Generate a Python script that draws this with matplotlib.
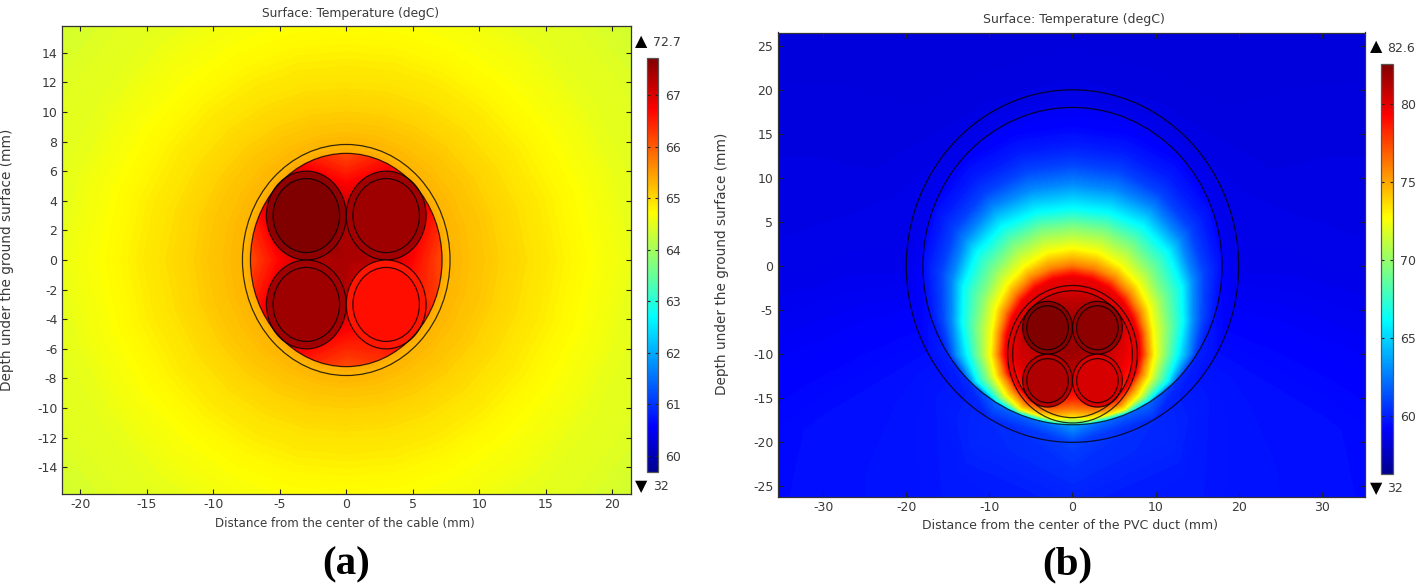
import matplotlib
matplotlib.use("Agg")
import matplotlib.pyplot as plt
import numpy as np
from matplotlib.cm import ScalarMappable
from matplotlib.colors import LinearSegmentedColormap, Normalize
from matplotlib.patches import Circle

W, H = 1416, 585
TEXT = "#3a3a3a"
LINE = (0, 0, 0, 0.78)

plt.rcParams["axes.unicode_minus"] = False

# the bars run dark blue - blue - cyan - yellow - red - dark red
RAINBOW = LinearSegmentedColormap.from_list("rainbow_bar", [
    (0.0, "#00008f"), (0.11, "#0000ff"), (0.375, "#00ffff"),
    (0.625, "#ffff00"), (0.875, "#ff0000"), (1.0, "#800000"),
], N=512)

# colour ranges of the two bars
range_a = (59.69, 67.73)
range_b = (56.3, 82.6)

# ── panel (a): isotherms, radius per ray (0..90 deg from "up", mirrored) ──
levels_a = [65.42, 65.3, 65.15, 64.97, 64.72, 64.55, 64.4, 64.3]
radii_a = [
    [7.0, 7.0, 7.0, 7.0, 7.0, 7.0, 7.0],
    [7.8, 7.8, 7.8, 7.8, 7.8, 7.8, 7.8],
    [9.3, 9.4, 9.6, 9.9, 10.2, 10.4, 10.5],
    [11.5, 11.7, 12.0, 12.4, 12.8, 13.2, 13.5],
    [15.5, 15.7, 16.0, 16.4, 17.0, 17.6, 18.0],
    [20.0, 20.0, 20.0, 20.3, 20.6, 21.0, 21.5],
    [25.0, 25.0, 25.0, 25.5, 26.0, 27.0, 28.0],
    [40.0, 40.0, 40.0, 40.0, 40.0, 40.0, 40.0],
]
# inside the cable: temperature per radius, 16 rays clockwise from "up"
core_r_a = [0.0, 2.5, 5.0, 7.3]
core_a = [
    [67.4] * 16,
    [67.4, 67.4, 67.45, 67.35, 67.3, 67.1, 67.0, 67.1, 67.3, 67.4, 67.45, 67.4, 67.35, 67.5, 67.6, 67.45],
    [66.75, 67.0, 67.3, 66.9, 66.7, 66.6, 66.7, 66.65, 66.65, 66.9, 67.3, 67.0, 66.7, 67.1, 67.5, 67.1],
    [66.1, 66.55, 67.2, 66.5, 66.1, 66.3, 66.9, 66.35, 66.1, 66.5, 67.2, 66.55, 66.1, 66.55, 67.4, 66.55],
]
# conductors: TL, TR, BL, BR
sheath_a = [67.6, 67.45, 67.45, 66.55]
metal_a = [67.73, 67.49, 67.49, 66.6]

# ── panel (b): rays 0..180 deg around the cable centre, air inside the duct ──
levels_b = [80.3, 79.7, 76.0, 72.7, 69.5, 66.2, 62.9, 61.0, 60.0, 59.2, 58.7]
radii_b = [
    [7.0, 7.0, 7.0, 7.0, 7.0, 7.0, 7.0, 6.8, 6.3, 5.8, 5.0, 4.5, 4.0],
    [8.8, 8.7, 8.6, 8.4, 8.2, 8.1, 8.0, 7.8, 7.4, 7.0, 6.3, 5.5, 5.0],
    [10.1, 10.0, 9.9, 9.6, 9.3, 9.0, 8.9, 8.6, 8.2, 8.0, 7.3, 6.5, 6.2],
    [12.0, 11.9, 11.5, 11.1, 10.6, 10.0, 9.85, 9.6, 9.2, 8.8, 8.0, 7.6, 7.1],
    [14.4, 14.4, 14.1, 13.3, 12.5, 11.8, 11.2, 10.6, 9.9, 9.1, 8.2, 7.85, 7.7],
    [16.5, 16.6, 16.7, 16.2, 15.1, 13.7, 12.6, 11.8, 10.5, 9.35, 8.5, 8.05, 7.95],
    [19.3, 19.3, 19.2, 18.3, 16.7, 15.0, 14.0, 12.5, 10.8, 9.6, 8.75, 8.3, 8.2],
    [21.5, 21.5, 21.0, 20.0, 18.2, 16.2, 14.7, 13.0, 11.4, 10.4, 10.1, 10.0, 10.0],
    [23.5, 23.5, 23.0, 21.8, 19.8, 17.3, 15.3, 16.0, 16.0, 16.0, 16.0, 16.0, 16.0],
    [26.0, 26.0, 25.5, 23.8, 21.2, 18.6, 22.0, 22.0, 22.0, 22.0, 22.0, 22.0, 22.0],
    [30.0] * 13,
]
core_r_b = [0.0, 2.5, 5.0, 6.2, 7.3]
core_b = [
    [81.8] * 16,
    [81.7, 81.9, 82.1, 81.6, 81.4, 81.0, 80.8, 80.9, 80.9, 81.0, 81.3, 81.6, 81.6, 82.0, 82.4, 82.0],
    [81.3, 81.6, 82.0, 81.0, 80.4, 80.1, 80.2, 79.3, 78.4, 79.4, 81.0, 80.5, 80.7, 81.4, 82.3, 81.7],
    [80.9, 81.2, 81.8, 80.5, 79.9, 79.6, 79.5, 77.5, 76.0, 77.7, 80.0, 80.0, 80.5, 81.0, 82.0, 81.3],
    [80.3, 80.6, 81.0, 79.8, 79.3, 78.5, 77.0, 75.0, 72.8, 75.2, 77.2, 78.6, 79.8, 80.2, 81.0, 80.6],
]
sheath_b = [82.4, 82.0, 81.2, 80.2]
metal_b = [82.6, 82.2, 81.4, 80.3]

# duct wall and soil around it: temperature per radius from the duct centre,
# rays every 30 deg from "up" to "down", mirrored
soil_r_b = [17.5, 18.0, 20.0, 23.0, 27.0, 35.0, 50.0]
soil_b = [
    [58.8, 58.8, 58.9, 59.2, 60.0, 62.0, 63.5],
    [58.8, 58.8, 58.9, 59.2, 60.0, 62.0, 63.5],
    [58.5, 58.5, 58.6, 58.7, 59.5, 60.3, 61.0],
    [58.4, 58.4, 58.5, 58.7, 59.5, 60.2, 60.5],
    [58.3, 58.3, 58.4, 58.7, 59.5, 59.9, 60.05],
    [58.2, 58.2, 58.4, 58.6, 59.5, 59.7, 59.8],
    [58.1, 58.1, 58.3, 58.6, 59.4, 59.6, 59.7],
]

xticks_a = [-20, -15, -10, -5, 0, 5, 10, 15, 20]
yticks_a = [-14, -12, -10, -8, -6, -4, -2, 0, 2, 4, 6, 8, 10, 12, 14]
xticks_b = [-30, -20, -10, 0, 10, 20, 30]
yticks_b = [-25, -20, -15, -10, -5, 0, 5, 10, 15, 20, 25]
barticks_a = [60, 61, 62, 63, 64, 65, 66, 67]
barticks_b = [60, 65, 70, 75, 80]

# conductor centres relative to the cable centre, radii of the drawn circles
cond_xy = [(-3, 3), (3, 3), (-3, -3), (3, -3)]
cable_radii = [7.2, 7.8]
cond_radii = [3.0, 2.5]
duct_radii = [18, 20]


def px_axes(fig, left, top, right, bottom):
    return fig.add_axes([left / W, 1 - bottom / H, (right - left) / W, (bottom - top) / H])


def put(fig, x, y, s, **kw):
    kw.setdefault("color", TEXT)
    kw.setdefault("ha", "center")
    kw.setdefault("va", "center")
    fig.text(x / W, 1 - y / H, s, **kw)


def mirror(table):
    """rows given on part of the rays -> reflected about the last ray"""
    return np.hstack([table, table[:, -2::-1]])


def clip_to(ax, cs, xy, rad):
    clip = Circle(xy, rad, fill=False, edgecolor="none", transform=ax.transData)
    ax.add_patch(clip)
    cs.set_clip_path(clip)


def draw_soil(ax, soil_r, soil, rng):
    temp = mirror(np.asarray(soil))
    th = np.radians(np.linspace(0, 360, temp.shape[1]))
    rr, tt = np.meshgrid(soil_r, th, indexing="ij")
    ax.contourf(rr * np.sin(tt), rr * np.cos(tt), temp, levels=np.linspace(rng[0], rng[1], 257),
                cmap=RAINBOW, norm=Normalize(*rng))


def draw_field(ax, cy, levels, radii, core_r, core, rng, sheath, metal, duct=None):
    norm = Normalize(*rng)
    steps = np.linspace(rng[0], rng[1], 257)

    r = np.asarray(radii, dtype=float)
    while r.shape[1] < 25:
        r = mirror(r)
    th = np.radians(np.linspace(0, 360, r.shape[1]))
    temp = np.repeat(np.asarray(levels)[:, None], r.shape[1], axis=1)
    cs = ax.contourf(r * np.sin(th), cy + r * np.cos(th), temp, levels=steps, cmap=RAINBOW, norm=norm)
    if duct is not None:
        clip_to(ax, cs, (0, 0), duct)

    # inside of the cable, cut at the inner sheath circle
    t_core = np.asarray(core)
    t_core = np.hstack([t_core, t_core[:, :1]])
    th_c = np.radians(np.linspace(0, 360, t_core.shape[1]))
    rr, tt = np.meshgrid(core_r, th_c, indexing="ij")
    cs = ax.contourf(rr * np.sin(tt), cy + rr * np.cos(tt), t_core, levels=steps, cmap=RAINBOW, norm=norm)
    clip_to(ax, cs, (0, cy), cable_radii[0])

    for (cx, dy), t_s, t_m in zip(cond_xy, sheath, metal):
        ax.add_patch(Circle((cx, cy + dy), cond_radii[0], fc=RAINBOW(norm(t_s)), ec=LINE, lw=0.9))
        ax.add_patch(Circle((cx, cy + dy), cond_radii[1], fc=RAINBOW(norm(t_m)), ec=LINE, lw=0.9))
    for rad in cable_radii:
        ax.add_patch(Circle((0, cy), rad, fill=False, ec=LINE, lw=0.9))


def style_axes(ax, xlim, ylim, xticks, yticks):
    ax.set_xlim(*xlim)
    ax.set_ylim(*ylim)
    ax.set_xticks(xticks)
    ax.set_yticks(yticks)
    ax.tick_params(direction="in", top=True, right=True, length=3.5, width=0.8, color="#222222",
                   labelsize=9, labelcolor=TEXT, pad=3)
    for s in ax.spines.values():
        s.set_linewidth(0.9)
        s.set_color("#333333")


def draw_bar(fig, box, rng, ticks):
    cax = px_axes(fig, *box)
    cb = fig.colorbar(ScalarMappable(Normalize(*rng), RAINBOW), cax=cax, ticks=ticks)
    cb.outline.set_edgecolor("#555555")
    cb.outline.set_linewidth(0.9)
    cax.tick_params(direction="in", left=True, right=True, length=2.5, width=0.8, color="#222222",
                    labelsize=9, labelcolor=TEXT, pad=5)


def main():
    fig = plt.figure(figsize=(W / 100, H / 100), dpi=100)
    plt.rcParams["font.family"] = "DejaVu Sans"

    # (a)
    ax = px_axes(fig, 61.5, 26, 631, 494)
    draw_field(ax, 0, levels_a, radii_a, core_r_a, core_a, range_a, sheath_a, metal_a)
    style_axes(ax, (-21.4, 21.4), (-15.8, 15.8), xticks_a, yticks_a)
    draw_bar(fig, (646.5, 57.5, 658, 472), range_a, barticks_a)
    put(fig, 351, 13, "Surface: Temperature (degC)", fontsize=8.8)
    put(fig, 345, 523, "Distance from the center of the cable (mm)", fontsize=8.6)
    put(fig, 7, 260, "Depth under the ground surface (mm)", fontsize=9.8, rotation=90)
    put(fig, 641.5, 42, "▲", fontsize=11.5, color="black")
    put(fig, 653, 43, "72.7", fontsize=9, ha="left")
    put(fig, 641.5, 487, "▼", fontsize=11.5, color="black")
    put(fig, 653, 487, "32", fontsize=9, ha="left")
    put(fig, 346, 565, "(a)", fontsize=29.5, family="Liberation Serif", weight="bold", color="black")

    # (b)
    ax = px_axes(fig, 777.5, 32.5, 1365, 497)
    draw_soil(ax, soil_r_b, soil_b, range_b)
    draw_field(ax, -10, levels_b, radii_b, core_r_b, core_b, range_b, sheath_b, metal_b, duct=duct_radii[0])
    for rad in duct_radii:
        ax.add_patch(Circle((0, 0), rad, fill=False, ec=LINE, lw=0.9))
    style_axes(ax, (-35.5, 35.2), (-26.2, 26.5), xticks_b, yticks_b)
    draw_bar(fig, (1381, 63.5, 1393, 474), range_b, barticks_b)
    put(fig, 1074, 19, "Surface: Temperature (degC)", fontsize=9)
    put(fig, 1070, 525, "Distance from the center of the PVC duct (mm)", fontsize=9)
    put(fig, 722, 264, "Depth under the ground surface (mm)", fontsize=9.8, rotation=90)
    put(fig, 1376, 47, "▲", fontsize=11.5, color="black")
    put(fig, 1387, 48, "82.6", fontsize=9, ha="left")
    put(fig, 1376, 489, "▼", fontsize=11.5, color="black")
    put(fig, 1387, 489, "32", fontsize=9, ha="left")
    put(fig, 1067, 565, "(b)", fontsize=29.5, family="Liberation Serif", weight="bold", color="black")

    fig.savefig("out.png", dpi=100)
    plt.close(fig)


if __name__ == "__main__":
    main()
